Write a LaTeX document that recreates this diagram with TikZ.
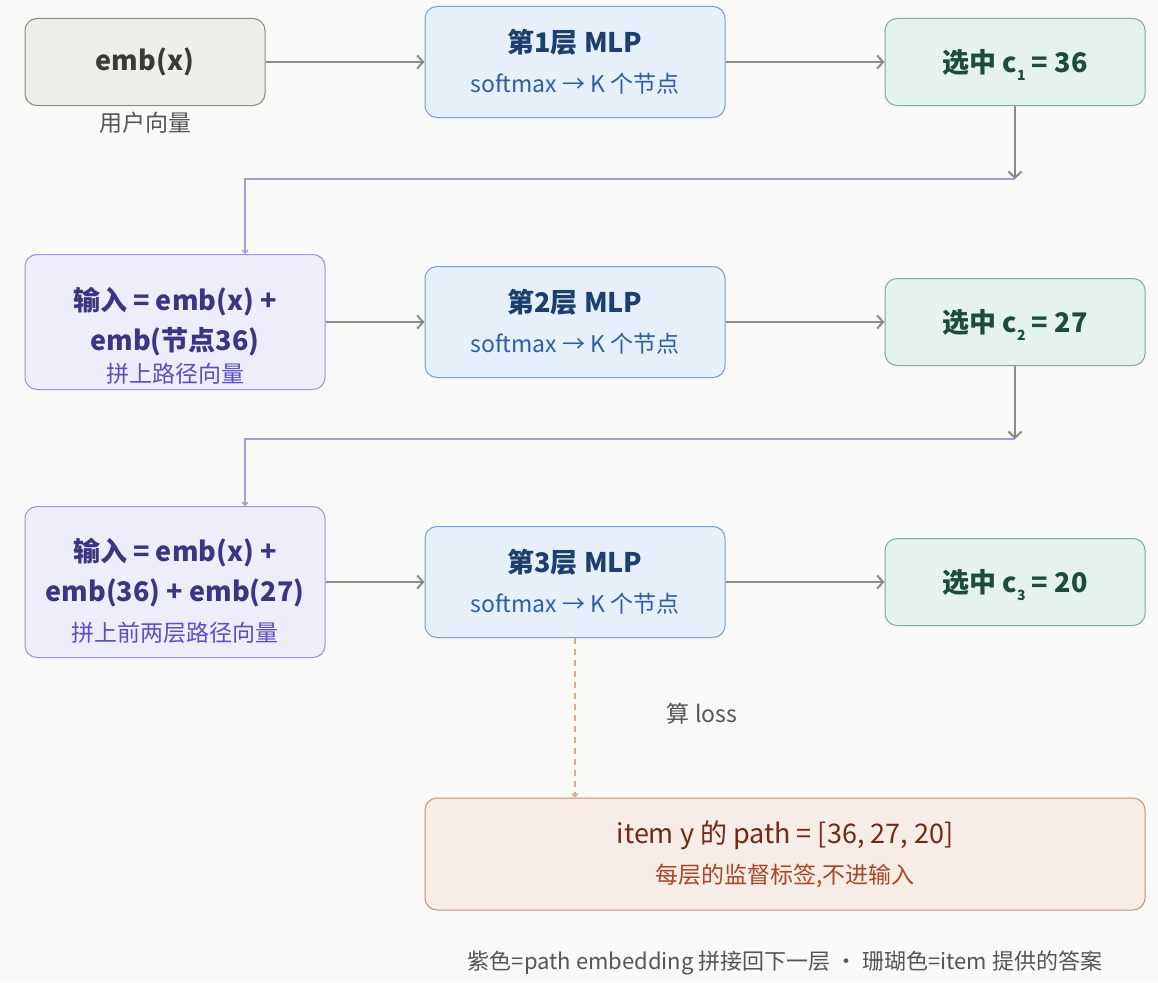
\documentclass[tikz,border=0pt]{standalone}
\usepackage{fontspec}
\setmainfont{Noto Sans CJK SC}
\usetikzlibrary{arrows.meta}

\definecolor{bgcol}{HTML}{F9F9F7}
\definecolor{embfill}{HTML}{F0EEE8}
\definecolor{embdraw}{HTML}{8C8A84}
\definecolor{embtext}{HTML}{3A3A38}
\definecolor{mlpfill}{HTML}{E6F0FA}
\definecolor{mlpdraw}{HTML}{7D9DCB}
\definecolor{mlptitle}{HTML}{1E3F6D}
\definecolor{mlpsub}{HTML}{2E5E9E}
\definecolor{selfill}{HTML}{E4F4EC}
\definecolor{seldraw}{HTML}{82A996}
\definecolor{seltext}{HTML}{1F4C3A}
\definecolor{inpfill}{HTML}{EEEDFB}
\definecolor{inpdraw}{HTML}{9A93D4}
\definecolor{inptitle}{HTML}{3B3582}
\definecolor{inpsub}{HTML}{5B50BE}
\definecolor{itemfill}{HTML}{F7ECE6}
\definecolor{itemdraw}{HTML}{C48E7C}
\definecolor{itemtitle}{HTML}{6E2C14}
\definecolor{itemsub}{HTML}{A4482A}
\definecolor{arrowgray}{HTML}{8A8A86}
\definecolor{purpline}{HTML}{A39DD6}
\definecolor{dashcoral}{HTML}{E2A48C}
\definecolor{captext}{HTML}{555553}

\newcommand\titlefont{\fontsize{27}{40}\selectfont\bfseries}
\newcommand\subidx[1]{\raisebox{-0.3em}[0pt][0pt]{\fontsize{14}{14}\selectfont #1}}

\begin{document}
\begin{tikzpicture}[x=1pt,y=-1pt,
    box/.style={draw, line width=1pt, rounded corners=12pt, align=center,
        inner sep=0pt, font=\fontsize{23}{40}\selectfont},
    embbox/.style={box, fill=embfill, draw=embdraw, text=embtext,
        minimum width=240pt, minimum height=87pt},
    mlpbox/.style={box, fill=mlpfill, draw=mlpdraw, text=mlptitle,
        minimum width=300pt, minimum height=111pt},
    selbox/.style={box, fill=selfill, draw=seldraw, text=seltext,
        minimum width=260pt, minimum height=87pt},
    inpbox/.style={box, fill=inpfill, draw=inpdraw, text=inptitle,
        minimum width=300pt},
    itembox/.style={box, fill=itemfill, draw=itemdraw, text=itemtitle,
        minimum width=720pt, minimum height=112pt},
    flow/.style={draw=arrowgray, line width=2pt,
        -{Straight Barb[length=6pt,width=13pt]}},
    pathline/.style={draw=purpline, line width=1.3pt,
        -{Straight Barb[length=3pt,width=6pt]}},
    lossline/.style={draw=dashcoral, line width=1.3pt, dash pattern=on 6pt off 5pt,
        -{Straight Barb[length=3pt,width=6pt]}},
    captxt/.style={text=captext, font=\fontsize{23}{26}\selectfont, inner sep=0pt}]

    % Background and page size
    \fill[bgcol] (0,0) rectangle (1158,982);
    \useasboundingbox (0,0) rectangle (1158,982);

    % Row 1
    \node[embbox] (emb) at (145,62) {\titlefont emb(x)};
    \node[captxt] (embcap) at (145,123) {用户向量};
    \node[mlpbox] (mlp1) at (575,62) {\titlefont 第1层 MLP\\\textcolor{mlpsub}{softmax → K 个节点}};
    \node[selbox] (sel1) at (1015,62) {\titlefont 选中 c\subidx{1} = 36};

    % Row 2
    \node[inpbox, minimum height=135pt] (inp2) at (175,322)
        {\titlefont\rule{0pt}{50pt}输入 = emb(x) +\\\titlefont emb(节点36)\\[-8pt]\textcolor{inpsub}{拼上路径向量}};
    \node[mlpbox] (mlp2) at (575,322) {\titlefont 第2层 MLP\\\textcolor{mlpsub}{softmax → K 个节点}};
    \node[selbox] (sel2) at (1015,322) {\titlefont 选中 c\subidx{2} = 27};

    % Row 3
    \node[inpbox, minimum height=151pt] (inp3) at (175,582)
        {\titlefont\rule{0pt}{42pt}输入 = emb(x) +\\\titlefont emb(36) + emb(27)\\\textcolor{inpsub}{拼上前两层路径向量}};
    \node[mlpbox] (mlp3) at (575,582) {\titlefont 第3层 MLP\\\textcolor{mlpsub}{softmax → K 个节点}};
    \node[selbox] (sel3) at (1015,582) {\titlefont 选中 c\subidx{3} = 20};

    % Supervision target
    \node[itembox] (item) at (785,854)
        {\titlefont\mdseries item y 的 path = [36, 27, 20]\\\textcolor{itemsub}{每层的监督标签,不进输入}};
    \node[captxt] (loss) at (702,714) {算 loss};

    % Forward arrows
    \draw[flow] (emb) -- (mlp1);
    \draw[flow] (mlp1) -- (sel1);
    \draw[flow] (inp2) -- (mlp2);
    \draw[flow] (mlp2) -- (sel2);
    \draw[flow] (inp3) -- (mlp3);
    \draw[flow] (mlp3) -- (sel3);

    % Feed the chosen node back to the next layer
    \coordinate (turn1) at (1015,179);
    \coordinate (turn2) at (1015,439);
    \draw[flow] (sel1) -- (turn1);
    \draw[flow] (sel2) -- (turn2);
    \draw[pathline] (turn1) -| ([xshift=70pt]inp2.north);
    \draw[pathline] (turn2) -| ([xshift=70pt]inp3.north);

    % Loss against the item path
    \draw[lossline] (mlp3.south) -- (mlp3.south |- item.north);

    % Legend
    \node[captxt, font=\fontsize{22}{26}\selectfont] (legend) at (785,963)
        {紫色=path embedding 拼接回下一层 · 珊瑚色=item 提供的答案};
\end{tikzpicture}
\end{document}
